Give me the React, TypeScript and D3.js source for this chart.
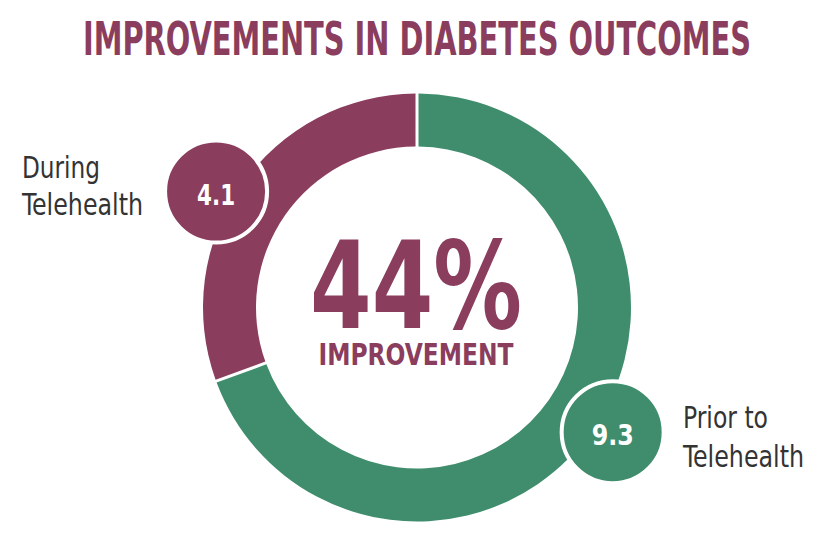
import React from "react";
import * as d3 from "d3";

const categories = ["Prior to Telehealth", "During Telehealth"];
const values = [9.3, 4.1];
const valueLabels = ["9.3", "4.1"];
const labelLines = [["Prior to", "Telehealth"], ["During", "Telehealth"]];
const colors = ["#3F8D6D", "#8B3D5E"];
const title = "IMPROVEMENTS IN DIABETES OUTCOMES";
const bigNumber = "44%";
const bigLabel = "IMPROVEMENT";

const W = 840;
const H = 544;
const cx = 417;
const cy = 307.5;
const outerR = 214;
const innerR = 161;
const badgeR = 232;
const badgeAngles = [122.5, 300];
const condensed = "'Liberation Sans Narrow', 'DejaVu Sans Condensed', 'DejaVu Sans', sans-serif";
const labelWidths = [[85, 121], [78, 121]];
const valueWidths = [42, 38];

export default function App() {
  const pie = d3.pie<number>().sort(null).value((d) => d);
  const arcs = pie(values);
  const arcGen = d3
    .arc<d3.PieArcDatum<number>>()
    .innerRadius(innerR)
    .outerRadius(outerR)
    .padAngle(0.016)
    .padRadius(187);

  const badgePos = badgeAngles.map((deg) => {
    const a = (deg * Math.PI) / 180;
    return [cx + badgeR * Math.sin(a), cy - badgeR * Math.cos(a)];
  });

  return (
    <svg width={W} height={H} style={{ position: "absolute", left: 0, top: 0, background: "#fff" }}>
      <text
        x={417}
        y={55}
        textAnchor="middle"
        fill="#8B3D5E"
        fontFamily={condensed}
        fontWeight="bold"
        fontSize={47}
        textLength={668}
        lengthAdjust="spacingAndGlyphs"
      >
        {title}
      </text>
      <g transform={`translate(${cx},${cy})`}>
        {arcs.map((a, i) => (
          <path key={categories[i]} d={arcGen(a) || ""} fill={colors[i]} />
        ))}
      </g>
      <text
        x={416}
        y={328}
        textAnchor="middle"
        fill="#8B3D5E"
        fontFamily={condensed}
        fontWeight="bold"
        fontSize={122}
        textLength={212}
        lengthAdjust="spacingAndGlyphs"
      >
        {bigNumber}
      </text>
      <text
        x={416}
        y={365}
        textAnchor="middle"
        fill="#8B3D5E"
        fontFamily={condensed}
        fontWeight="bold"
        fontSize={30}
        textLength={195}
        lengthAdjust="spacingAndGlyphs"
      >
        {bigLabel}
      </text>
      {badgePos.map(([x, y], i) => (
        <g key={"b" + i}>
          <circle cx={x} cy={y} r={51} fill={colors[i]} stroke="#fff" strokeWidth={4} />
          <text
            x={x}
            y={y + 13}
            textAnchor="middle"
            fill="#fff"
            fontFamily={condensed}
            fontWeight="bold"
            fontSize={29}
            textLength={valueWidths[i]}
            lengthAdjust="spacingAndGlyphs"
          >
            {valueLabels[i]}
          </text>
        </g>
      ))}
      {labelLines[0].map((t, j) => (
        <text
          key={"l0" + j}
          x={683}
          y={428 + j * 39}
          fill="#333"
          fontFamily={condensed}
          fontSize={30}
          textLength={labelWidths[0][j]}
          lengthAdjust="spacingAndGlyphs"
        >
          {t}
        </text>
      ))}
      {labelLines[1].map((t, j) => (
        <text
          key={"l1" + j}
          x={22}
          y={178 + j * 37}
          fill="#333"
          fontFamily={condensed}
          fontSize={30}
          textLength={labelWidths[1][j]}
          lengthAdjust="spacingAndGlyphs"
        >
          {t}
        </text>
      ))}
    </svg>
  );
}
